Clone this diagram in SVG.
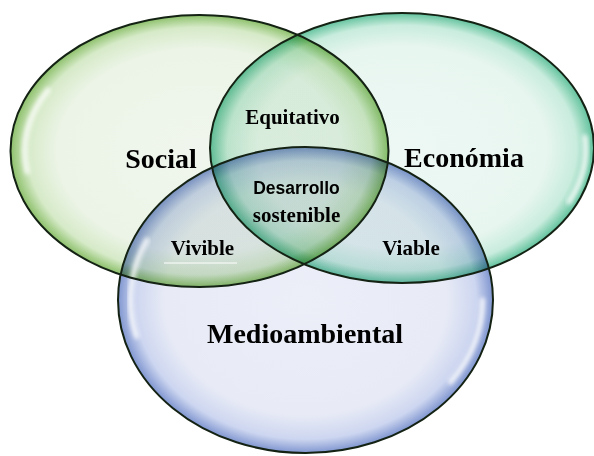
<svg xmlns="http://www.w3.org/2000/svg" width="594" height="456" viewBox="0 0 594 456">
  <defs>
    <radialGradient id="gGreen" cx="0.5" cy="0.5" r="0.5">
      <stop offset="0" stop-color="#f0f6ed"/>
      <stop offset="0.75" stop-color="#ecf4e7"/>
      <stop offset="0.91" stop-color="#d6eac8"/>
      <stop offset="1" stop-color="#8cc06a"/>
    </radialGradient>
    <radialGradient id="gTeal" cx="0.5" cy="0.5" r="0.5">
      <stop offset="0" stop-color="#edf8f4"/>
      <stop offset="0.75" stop-color="#e8f6f0"/>
      <stop offset="0.91" stop-color="#c8ecdd"/>
      <stop offset="1" stop-color="#62c29e"/>
    </radialGradient>
    <radialGradient id="gBlue" cx="0.5" cy="0.5" r="0.5">
      <stop offset="0" stop-color="#eceff8"/>
      <stop offset="0.75" stop-color="#e8ebf6"/>
      <stop offset="0.91" stop-color="#cdd6f0"/>
      <stop offset="1" stop-color="#8096d0"/>
    </radialGradient>
    <filter id="blur" x="-20%" y="-20%" width="140%" height="140%">
      <feGaussianBlur stdDeviation="2"/>
    </filter>
  </defs>
  <style>
    .fill { mix-blend-mode: multiply; }
    .edge { fill: none; stroke: #142214; stroke-width: 2; }
    .hl { fill: none; stroke: #ffffff; stroke-width: 5; stroke-linecap: round; opacity: 0.85; filter: url(#blur); }
    .big { font-family: "Liberation Serif", "Times New Roman", serif; font-weight: bold; font-size: 28px; fill: #000; text-anchor: middle; }
    .small { font-family: "Liberation Serif", "Times New Roman", serif; font-weight: bold; font-size: 21px; fill: #000; text-anchor: middle; }
    .sans { font-family: "Liberation Sans", Arial, sans-serif; font-weight: bold; font-size: 17.5px; fill: #000; text-anchor: middle; }
  </style>
  <rect width="594" height="456" fill="#ffffff"/>

  <g id="medioambiental">
    <ellipse class="fill" cx="305.5" cy="300" rx="187.5" ry="153" fill="url(#gBlue)"/>
  </g>
  <g id="social">
    <ellipse class="fill" cx="199.5" cy="151" rx="189" ry="136" fill="url(#gGreen)"/>
  </g>
  <g id="economia">
    <ellipse class="fill" cx="402" cy="148" rx="192" ry="135" fill="url(#gTeal)"/>
  </g>

  <g id="highlights">
    <path class="hl" d="M147,240 A175,141 0 0 0 136.5,336.5"/>
    <path class="hl" d="M482.5,300 A177,143 0 0 1 450.5,382"/>
    <path class="hl" d="M48,90 A175,122 0 0 0 27.2,172"/>
    <path class="hl" d="M585,137 A184,127 0 0 1 569,202"/>
  </g>

  <g id="outlines">
    <ellipse class="edge" cx="305.5" cy="300" rx="187.5" ry="153"/>
    <ellipse class="edge" cx="199.5" cy="151" rx="189" ry="136"/>
    <ellipse class="edge" cx="402" cy="148" rx="192" ry="135"/>
  </g>

  <g id="labels">
    <text class="big" x="161" y="168">Social</text>
    <text class="big" x="464" y="167">Económia</text>
    <text class="big" x="305" y="343">Medioambiental</text>
  </g>
  <g id="equitativo">
    <text class="small" x="292.5" y="124">Equitativo</text>
  </g>
  <g id="desarrollo-sostenible">
    <text class="sans" x="296.5" y="194">Desarrollo</text>
    <text class="small" x="296.5" y="221.5">sostenible</text>
  </g>
  <g id="vivible">
    <text class="small" x="202.5" y="255">Vivible</text>
    <line x1="164" y1="263" x2="237" y2="263" stroke="#ffffff" stroke-width="1"/>
  </g>
  <g id="viable">
    <text class="small" x="411" y="255">Viable</text>
  </g>
</svg>
